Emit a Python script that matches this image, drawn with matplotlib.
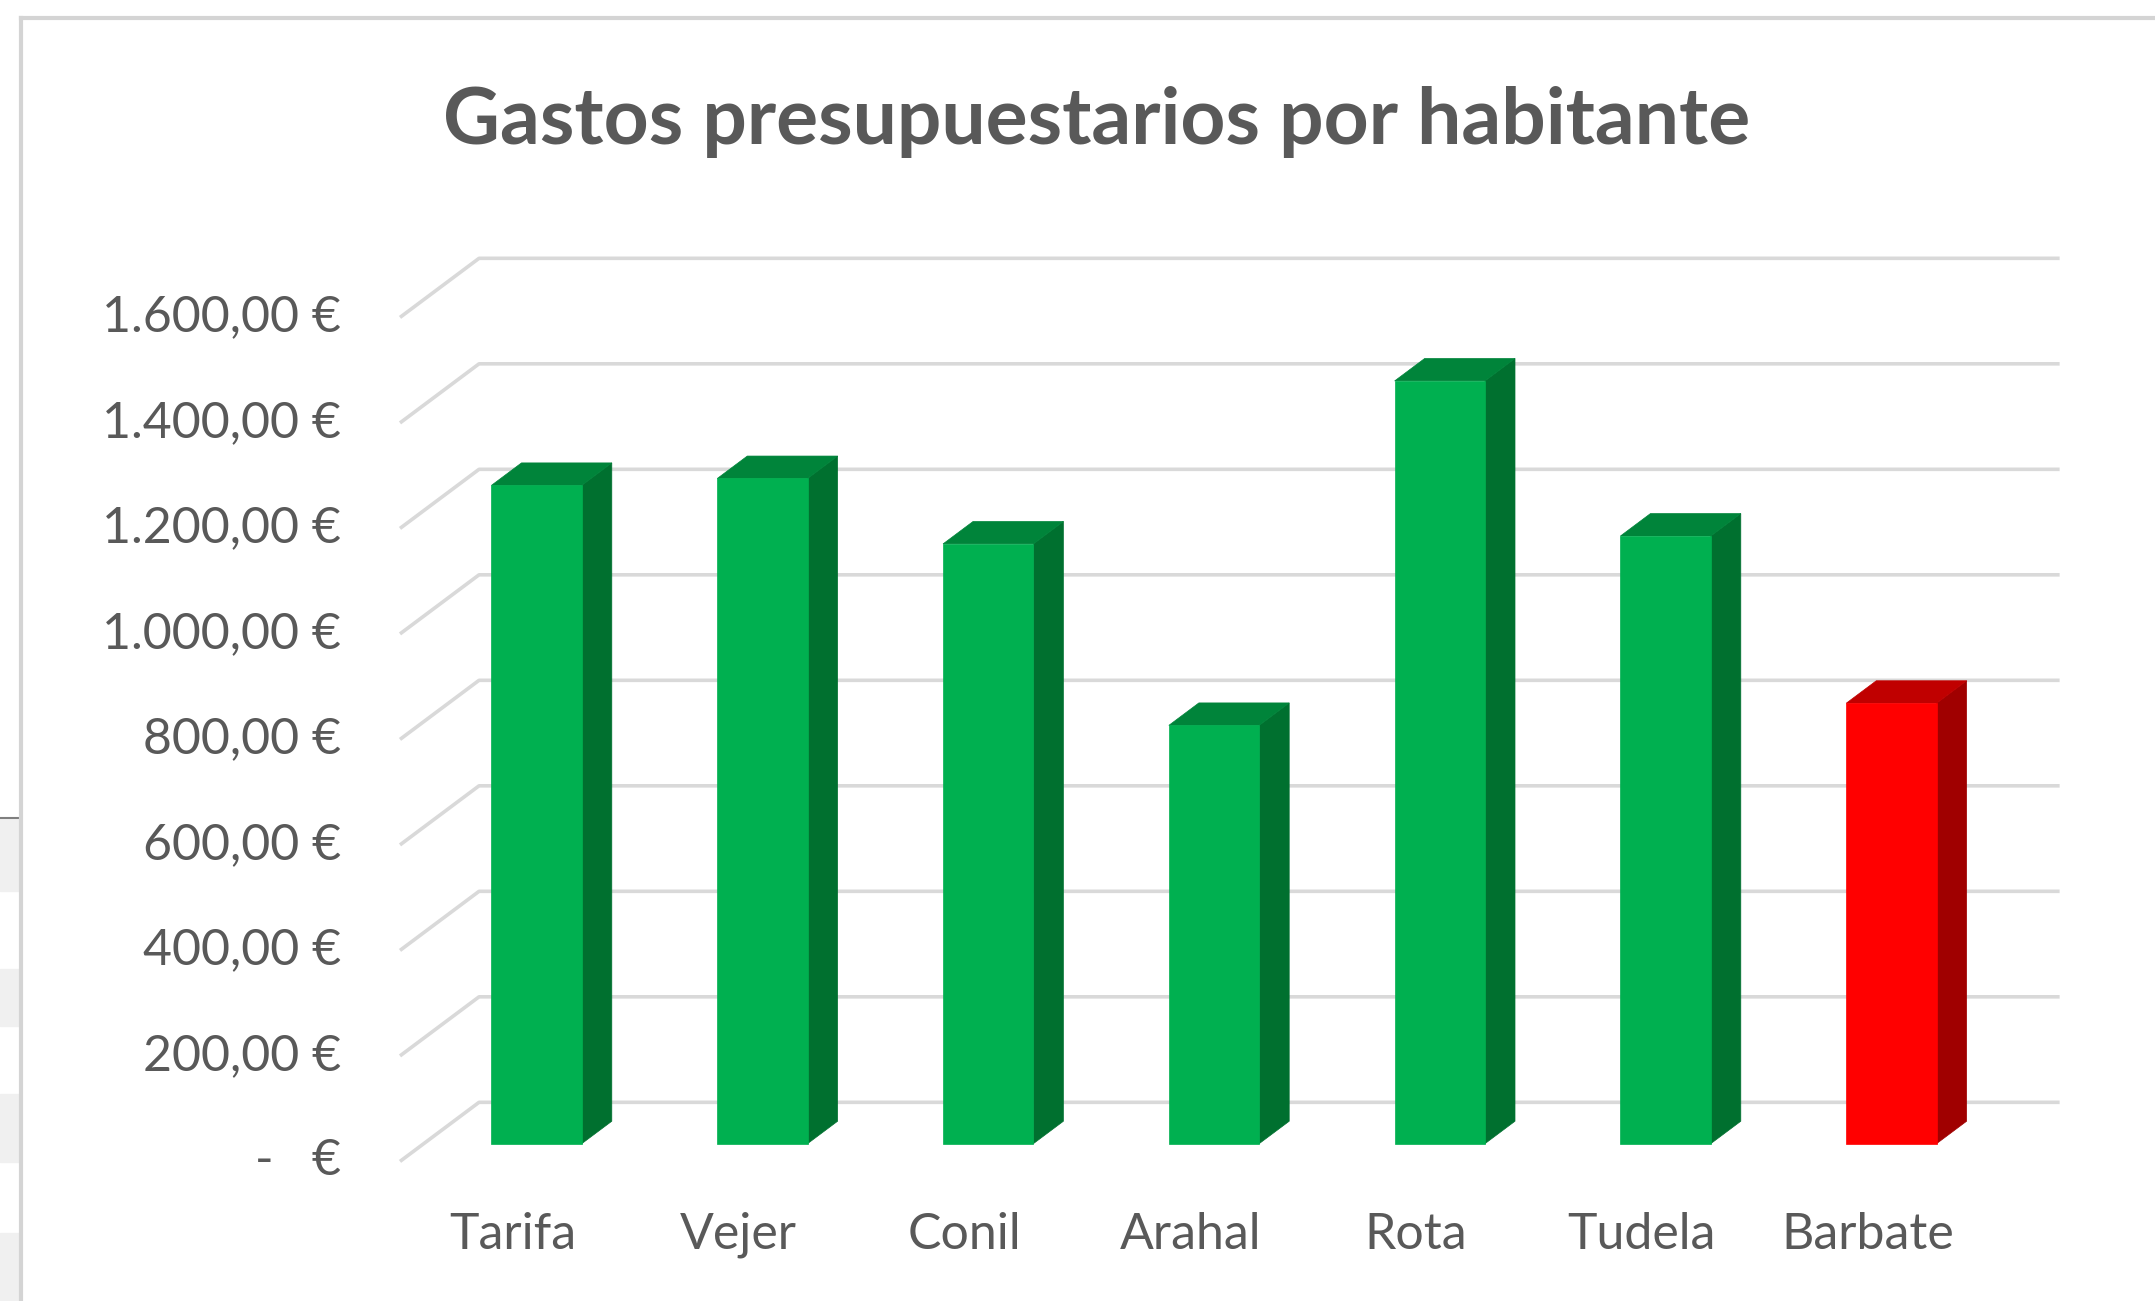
import numpy as np
import matplotlib
matplotlib.use("Agg")
import matplotlib.pyplot as plt
from matplotlib.patches import Polygon, Rectangle
from matplotlib.lines import Line2D

plt.rcParams['font.family'] = ['Lato', 'DejaVu Sans']

# data
municipios = ['Tarifa', 'Vejer', 'Conil', 'Arahal', 'Rota', 'Tudela', 'Barbate']
gasto = [1248, 1261, 1137, 793, 1446, 1152, 835]
destacado = [False, False, False, False, False, False, True]
ticks = [0, 200, 400, 600, 800, 1000, 1200, 1400, 1600]

W, H, DPI = 2155, 1301, 100
fig = plt.figure(figsize=(W / DPI, H / DPI), dpi=DPI)
ax = fig.add_axes([0, 0, 1, 1])
ax.axis('off')

# pixel mapping of the front plane
px_cat = 225.8          # px per category
px_eur = 0.5275         # px per euro
x_left_px = 400.0       # front left corner (px from left)
y_zero_px = 1161.4      # zero line on front plane (px from top)
ax.set_xlim(-0.5 - x_left_px / px_cat, -0.5 + (W - x_left_px) / px_cat)
ax.set_ylim(-(H - y_zero_px) / px_eur, y_zero_px / px_eur)

# oblique depth of the box
DX, DY = 0.35, 112.0
n = len(municipios)
xl, xr = -0.5, n - 0.5
grid_c = '#D9D9D9'
for t in ticks:
    ax.plot([xl, xl + DX, xr + DX], [t, t + DY, t + DY], color=grid_c,
            lw=2.6, solid_capstyle='butt', zorder=1)

# 3D columns
w = 0.40
f0, f1 = 0.30, 0.68
ddx, ddy = (f1 - f0) * DX, (f1 - f0) * DY
for i, (v, hl) in enumerate(zip(gasto, destacado)):
    if hl:
        c_front, c_top, c_side = '#FF0000', '#C00000', '#A00000'
    else:
        c_front, c_top, c_side = '#00B050', '#00843A', '#00702F'
    x0 = i - w / 2 + f0 * DX
    y0 = f0 * DY
    front = [(x0, y0), (x0 + w, y0), (x0 + w, y0 + v), (x0, y0 + v)]
    side = [(x0 + w, y0), (x0 + w + ddx, y0 + ddy),
            (x0 + w + ddx, y0 + ddy + v), (x0 + w, y0 + v)]
    top = [(x0, y0 + v), (x0 + w, y0 + v),
           (x0 + w + ddx, y0 + v + ddy), (x0 + ddx, y0 + v + ddy)]
    for pts, c in [(side, c_side), (top, c_top), (front, c_front)]:
        ax.add_patch(Polygon(pts, closed=True, facecolor=c, edgecolor=c,
                             lw=0.5, zorder=3))

# axis labels
txt_c = '#595959'
lab_x = -0.5 - (x_left_px - 341) / px_cat
for t in ticks:
    if t == 0:
        s = '-   €'
    else:
        s = f'{t:,.2f} €'.replace(',', 'X').replace('.', ',').replace('X', '.')
    ax.text(lab_x, t, s, ha='right', va='center', fontsize=36, color=txt_c)

cat_y = -(1235 - y_zero_px) / px_eur
for i, m in enumerate(municipios):
    ax.text(i, cat_y, m, ha='center', va='center', fontsize=36, color=txt_c)

fig.text(1097 / W, 1 - 122 / H, 'Gastos presupuestarios por habitante',
         ha='center', va='center', fontsize=56.5, fontweight='bold', color=txt_c)

# chart frame and spreadsheet leftovers at the left edge
for y_a, y_b in [(819, 891), (969, 1026), (1094, 1162), (1233, 1301)]:
    fig.patches.append(Rectangle((0, 1 - y_b / H), 19 / W, (y_b - y_a) / H,
                                 transform=fig.transFigure, color='#F0F0F0', zorder=0))
fig.lines.append(Line2D([0, 19 / W], [1 - 818 / H, 1 - 818 / H],
                        transform=fig.transFigure, color='#7F7F7F', lw=1.5))
fig.lines.append(Line2D([21 / W, 21 / W], [0, 1 - 18 / H],
                        transform=fig.transFigure, color='#D4D4D4', lw=3))
fig.lines.append(Line2D([21 / W, 1], [1 - 18 / H, 1 - 18 / H],
                        transform=fig.transFigure, color='#D4D4D4', lw=3))

fig.savefig('out.png', dpi=DPI)
